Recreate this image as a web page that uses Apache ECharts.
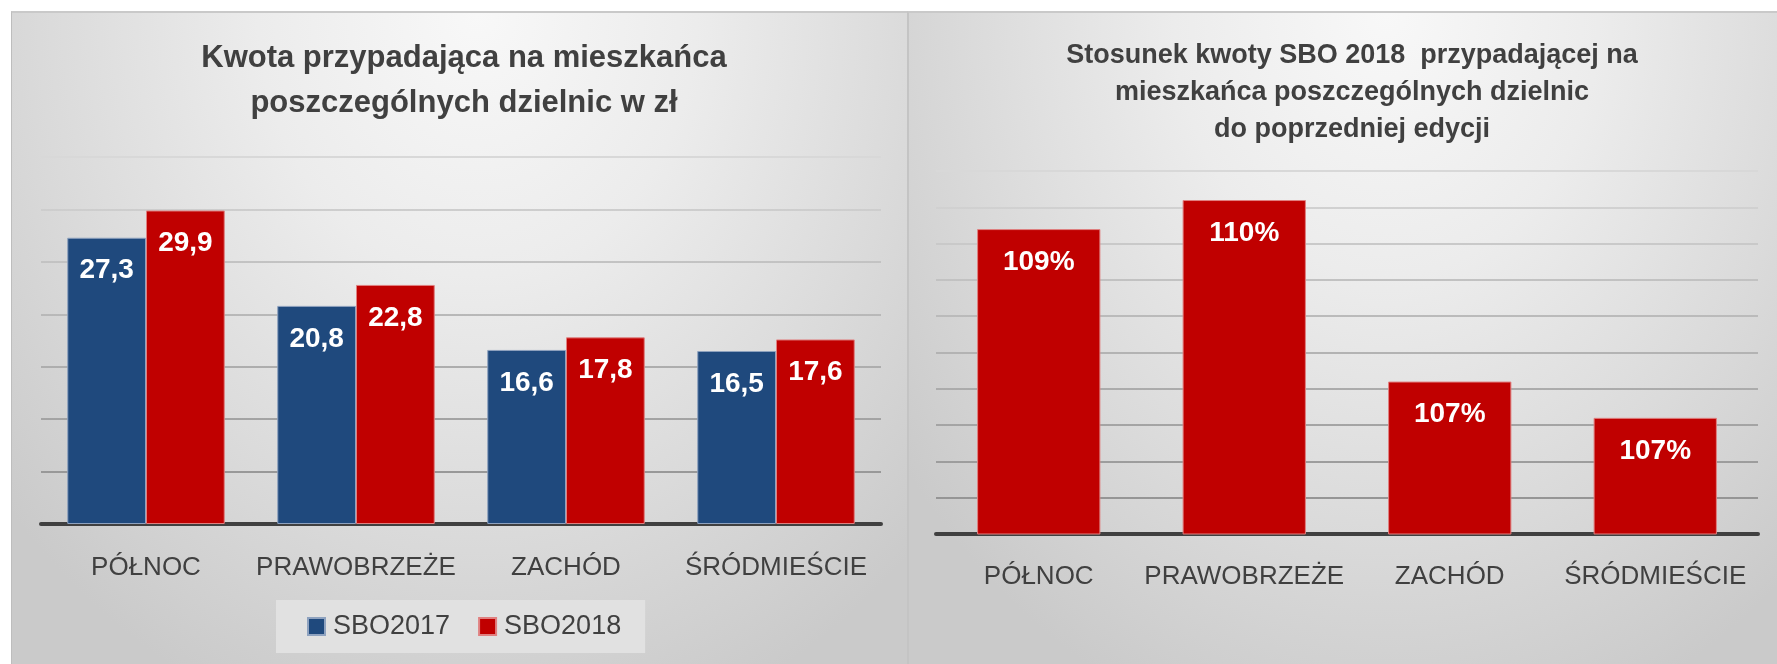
<!DOCTYPE html>
<html>
<head>
<meta charset="utf-8">
<script src="https://cdn.jsdelivr.net/npm/echarts@6/dist/echarts.min.js"></script>
<style>
  html, body { margin: 0; padding: 0; background: #ffffff; }
  #wrap { position: relative; width: 1777px; height: 664px; overflow: hidden; }
  .panel { position: absolute; top: 11px; height: 653px; box-sizing: border-box; border-top: 2px solid #c9c9c9; }
  #p1 { left: 11px; width: 896px; border-left: 1px solid #bdbdbd;
        background: radial-gradient(ellipse 70% 115% at 52% 0%, #f8f8f8 0%, #ececec 35%, #dadada 70%, #cacaca 100%); }
  #p2 { left: 907px; width: 870px; border-left: 2px solid #c4c4c4;
        background: radial-gradient(ellipse 70% 115% at 55% 0%, #f8f8f8 0%, #ececec 35%, #dadada 70%, #cacaca 100%); }
  #chart { position: absolute; left: 0; top: 0; width: 1777px; height: 664px; }
</style>
</head>
<body>
<div id="wrap">
  <div class="panel" id="p1"></div>
  <div class="panel" id="p2"></div>
  <div id="chart"></div>
</div>
<script>
// ---- data ----
const categories = ['PÓŁNOC', 'PRAWOBRZEŻE', 'ZACHÓD', 'ŚRÓDMIEŚCIE'];
const sbo2017 = [27.3, 20.8, 16.6, 16.5];
const sbo2018 = [29.9, 22.8, 17.8, 17.6];
const ratioPct = [109.2, 109.6, 107.1, 106.6];
const seriesNames = ['SBO2017', 'SBO2018'];
const title1 = 'Kwota przypadająca na mieszkańca\nposzczególnych dzielnic w zł';
const title2 = 'Stosunek kwoty SBO 2018  przypadającej na\nmieszkańca poszczególnych dzielnic\ndo poprzedniej edycji';

const FONT = "'Liberation Sans', Arial, sans-serif";
const BLUE = '#1f497d';
const RED = '#c00000';
const TXT = '#404040';

function gridGrad(y0, y1) {
  return {
    type: 'linear', x: 0, y: y0, x2: 0, y2: y1, global: true,
    colorStops: [{ offset: 0, color: '#d8d8d8' }, { offset: 1, color: '#8e8e8e' }]
  };
}

const chart = echarts.init(document.getElementById('chart'), null, { renderer: 'canvas' });

const labelCommon = {
  show: true, position: 'insideTop', distance: 19,
  color: '#ffffff', fontFamily: FONT, fontWeight: 'bold', fontSize: 28
};

chart.setOption({
  backgroundColor: 'transparent',
  animation: false,
  title: [
    { text: title1, left: 459, top: 31, textAlign: 'center',
      textStyle: { fontFamily: FONT, fontWeight: 'bold', fontSize: 31, lineHeight: 45, color: TXT } },
    { text: title2, left: 1347, top: 32, textAlign: 'center',
      textStyle: { fontFamily: FONT, fontWeight: 'bold', fontSize: 27, lineHeight: 37, color: TXT } }
  ],
  legend: {
    data: seriesNames,
    left: 276, top: 600,
    padding: [13, 24, 13, 31],
    backgroundColor: '#e1e1e1',
    itemWidth: 17, itemHeight: 17, itemGap: 28,
    icon: 'rect',
    textStyle: { fontFamily: FONT, fontSize: 27, color: TXT, padding: [0, 0, 0, 3] }
  },
  grid: [
    { left: 41, right: 896, top: 157, bottom: 140 },
    { left: 936, right: 19, top: 171, bottom: 130 }
  ],
  xAxis: [
    { type: 'category', gridIndex: 0, data: categories,
      axisLine: { lineStyle: { color: '#404040', width: 4 } },
      axisTick: { show: false },
      axisLabel: { interval: 0, fontFamily: FONT, fontSize: 26, color: TXT, margin: 31 } },
    { type: 'category', gridIndex: 1, data: categories,
      axisLine: { lineStyle: { color: '#404040', width: 4 } },
      axisTick: { show: false },
      axisLabel: { interval: 0, fontFamily: FONT, fontSize: 26, color: TXT, margin: 30 } }
  ],
  yAxis: [
    { type: 'value', gridIndex: 0, min: 0, max: 35, interval: 5,
      axisLabel: { show: false }, axisLine: { show: false }, axisTick: { show: false },
      splitLine: { lineStyle: { color: gridGrad(157, 524), width: 2 } } },
    { type: 'value', gridIndex: 1, min: 105, max: 110, interval: 0.5,
      axisLabel: { show: false }, axisLine: { show: false }, axisTick: { show: false },
      splitLine: { lineStyle: { color: gridGrad(171, 534), width: 2 } } }
  ],
  series: [
    { name: seriesNames[0], type: 'bar', xAxisIndex: 0, yAxisIndex: 0, data: sbo2017,
      barGap: '0%', barCategoryGap: '25%',
      itemStyle: { color: BLUE, borderColor: '#8ea2bf', borderWidth: 1 },
      label: Object.assign({}, labelCommon, { formatter: p => p.value.toFixed(1).replace('.', ',') }) },
    { name: seriesNames[1], type: 'bar', xAxisIndex: 0, yAxisIndex: 0, data: sbo2018,
      barGap: '0%', barCategoryGap: '25%',
      itemStyle: { color: RED, borderColor: '#e08080', borderWidth: 1 },
      label: Object.assign({}, labelCommon, { formatter: p => p.value.toFixed(1).replace('.', ',') }) },
    { name: 'Stosunek', type: 'bar', xAxisIndex: 1, yAxisIndex: 1, data: ratioPct,
      barCategoryGap: '40%',
      itemStyle: { color: RED, borderColor: '#e08080', borderWidth: 1 },
      label: Object.assign({}, labelCommon, { formatter: p => Math.round(p.value) + '%' }) }
  ]
});
</script>
</body>
</html>
